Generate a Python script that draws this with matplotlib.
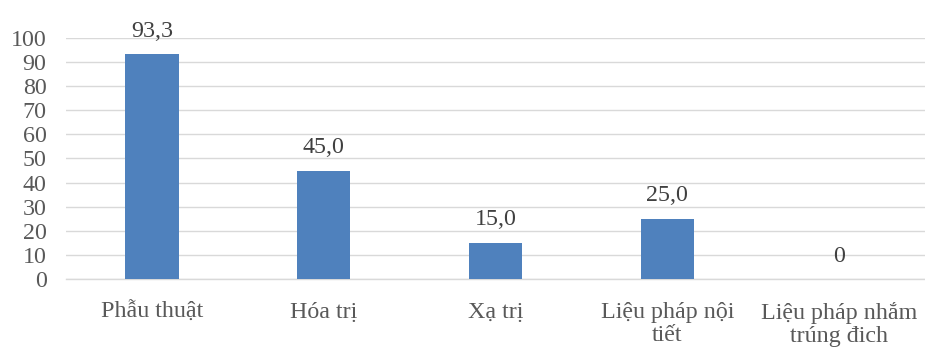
import matplotlib
matplotlib.use("Agg")
import matplotlib.pyplot as plt

categories = ["Phẫu thuật", "Hóa trị", "Xạ trị", "Liệu pháp nội\ntiết", "Liệu pháp nhắm\ntrúng đich"]
values = [93.3, 45.0, 15.0, 25.0, 0]
labels = ["93,3", "45,0", "15,0", "25,0", "0"]
yticks = list(range(0, 101, 10))

plt.rcParams['font.family'] = ['Liberation Serif', 'DejaVu Serif']

fig = plt.figure(figsize=(9.25, 3.49), dpi=100)
ax = fig.add_axes([0.0714, 0.2006, 0.9286, 0.6905])

x = list(range(len(categories)))
ax.bar(x, values, width=0.31, color='#4F81BD', zorder=3)
ax.set_xlim(-0.5, len(categories) - 0.5)
ax.set_ylim(0, 100)
ax.set_yticks(yticks)
ax.set_xticks(x)
ax.set_xticklabels(categories, linespacing=1.15)
ax.grid(axis='y', color='#D9D9D9', linewidth=1.0, zorder=0)
for s in ['top', 'right', 'left']:
    ax.spines[s].set_visible(False)
ax.spines['bottom'].set_color('#D9D9D9')
ax.spines['bottom'].set_linewidth(1.0)
ax.tick_params(axis='both', length=0, labelsize=17.3, colors='#595959')
ax.tick_params(axis='y', pad=14)
ax.tick_params(axis='x', pad=16.5)

for xi, v, lab in zip(x, values, labels):
    ax.annotate(lab, (xi, v), xytext=(0, 12.5), textcoords='offset points',
                ha='center', va='baseline', fontsize=17.3, color='#404040')

fig.savefig('out.png', dpi=100)
